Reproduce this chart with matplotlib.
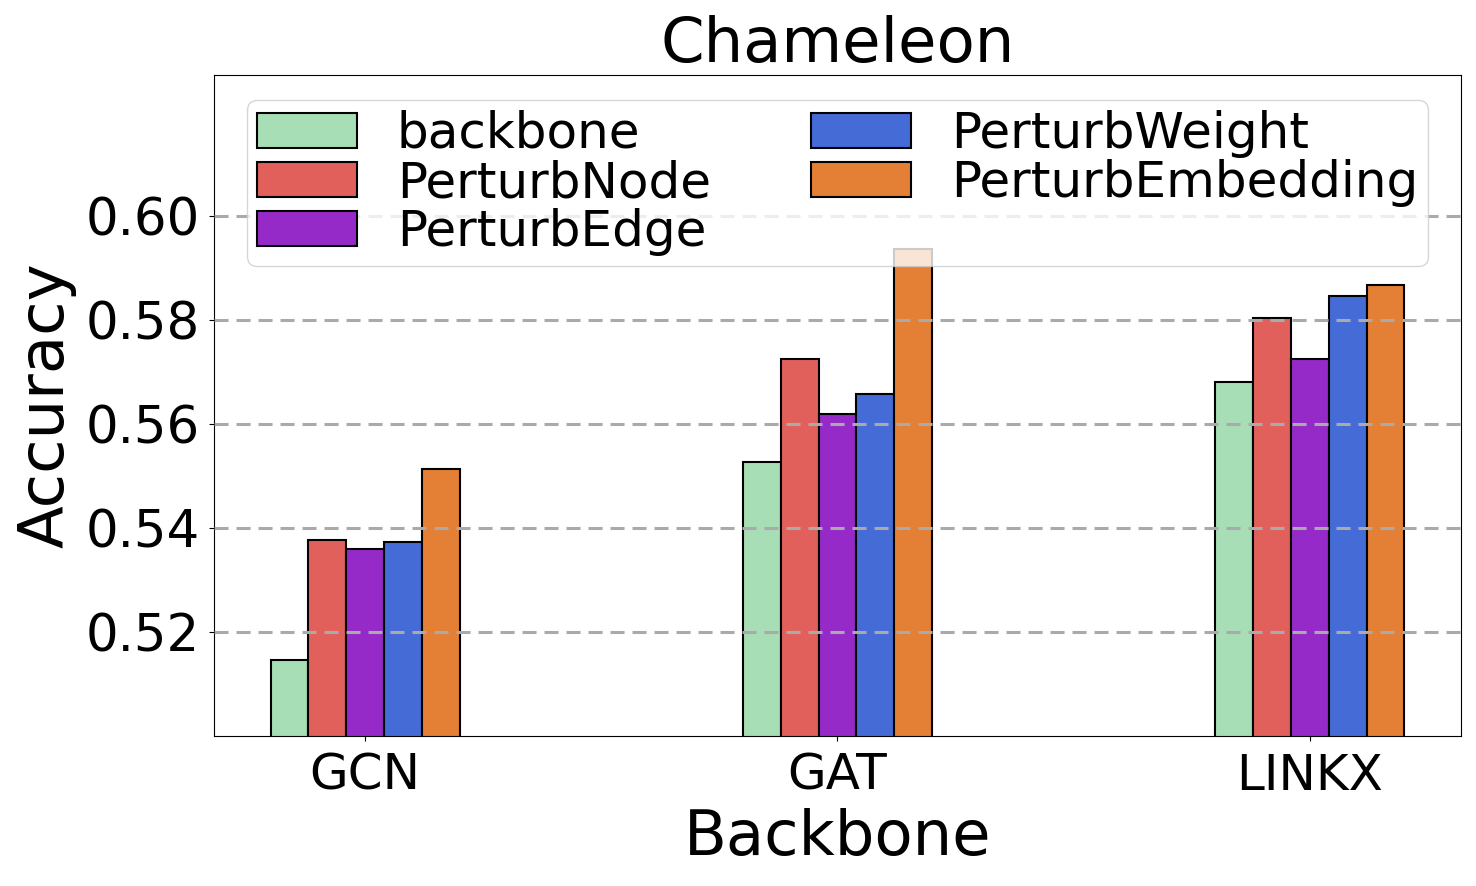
import matplotlib
matplotlib.use("Agg")
import matplotlib.pyplot as plt
import numpy as np

backbones = ["GCN", "GAT", "LINKX"]
methods = ["backbone", "PerturbNode", "PerturbEdge", "PerturbWeight", "PerturbEmbedding"]
values = {
    "backbone":         [0.5146, 0.5527, 0.5681],
    "PerturbNode":      [0.5377, 0.5725, 0.5804],
    "PerturbEdge":      [0.5360, 0.5619, 0.5725],
    "PerturbWeight":    [0.5373, 0.5658, 0.5846],
    "PerturbEmbedding": [0.5513, 0.5935, 0.5867],
}
colors = ["#a8deb5", "#e2605b", "#952ac8", "#456bd6", "#e38036"]
yticks = [0.52, 0.54, 0.56, 0.58, 0.60]

fig = plt.figure(figsize=(14.76, 8.86), dpi=100)
ax = fig.add_axes([214/1476, 1-736/886, (1461-214)/1476, (736-75)/886])

x = np.arange(len(backbones))
w = 0.08
for i, (m, c) in enumerate(zip(methods, colors)):
    ax.bar(x + (i - 2) * w, values[m], width=w, color=c, edgecolor="black",
           linewidth=1.5, label=m)

ax.set_ylim(0.50, 0.627)
ax.set_yticks(yticks)
ax.set_yticklabels([f"{t:.2f}" for t in yticks])
ax.set_xticks(x)
ax.set_xticklabels(backbones)
ax.tick_params(axis="x", labelsize=36, pad=8)
ax.tick_params(axis="y", labelsize=37, pad=7)
ax.grid(axis="y", linestyle="--", color="#aaaaaa", linewidth=2.2, dashes=(4.6, 2.6))
ax.set_axisbelow(False)
ax.set_xlabel("Backbone", fontsize=45, labelpad=6)
ax.set_ylabel("Accuracy", fontsize=45, labelpad=6)
ax.set_title("Chameleon", fontsize=45, pad=4)
ax.legend(ncol=2, fontsize=36, loc="upper center", handlelength=2.0,
          columnspacing=2.0, labelspacing=0.02, handletextpad=0.8,
          borderpad=0.2)
fig.savefig("out.png", dpi=100)
